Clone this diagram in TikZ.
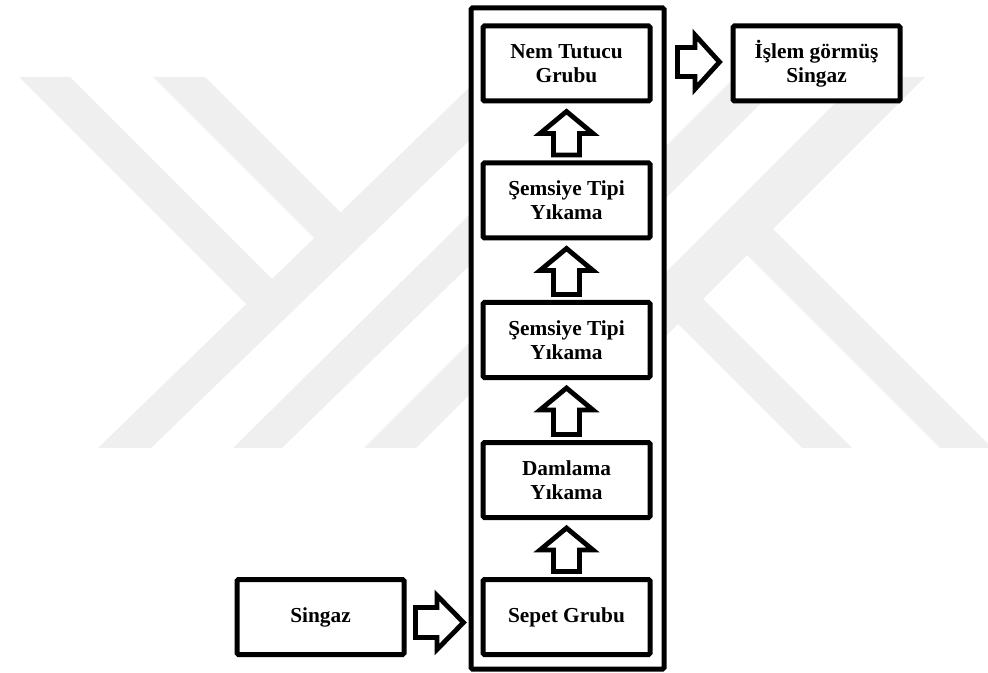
\documentclass[tikz,border=0pt]{standalone}
\usepackage{fontspec}
\setmainfont{Liberation Serif}
\usetikzlibrary{calc}
\definecolor{wm}{RGB}{239,239,239}
\begin{document}
\begin{tikzpicture}[x=0.75pt,y=-0.75pt,
  box/.style={draw, line width=3.75pt, fill=white, rounded corners=1pt,
    minimum width=125.25pt, minimum height=56.25pt, inner sep=0pt,
    align=center, font=\bfseries\fontsize{16}{18}\selectfont},
  column/.style={draw, line width=3.75pt, fill=white, rounded corners=1pt,
    minimum width=144.75pt, minimum height=495.75pt, inner sep=0pt},
  blk/.style={draw, line width=3.6pt, fill=white, line join=miter},
  wmark/.style={fill=wm, draw=none}]
\useasboundingbox (0,0) rectangle (988,673);
% watermark (Y)
\fill[wmark] (98,448) -- (151,448) -- (535,77) -- (480,77) -- cycle;
\fill[wmark] (19,77) -- (70,77) -- (290,297) -- (265,323) -- cycle;
\fill[wmark] (153,77) -- (205,77) -- (354,226) -- (328,252) -- cycle;
\fill[wmark] (233,448) -- (282,448) -- (663,77) -- (609,77) -- cycle;
% watermark (K)
\fill[wmark] (364,448) -- (416,448) -- (787,77) -- (735,77) -- cycle;
\fill[wmark] (861,77) -- (925,77) -- (600,402) -- (600,338) -- cycle;
\fill[wmark] (757,213) -- (992,448) -- (940,448) -- (731,239) -- cycle;
\fill[wmark] (687,283) -- (852,448) -- (802,448) -- (662,308) -- cycle;
% column
\node[column] (col) at (567.5,338.5) {};
% boxes
\node[box] (nem) at (566.5,63.5) {Nem Tutucu\\Grubu};
\node[box] (sem1) at (566.5,200.5) {Şemsiye Tipi\\Yıkama};
\node[box] (sem2) at (566.5,340) {Şemsiye Tipi\\Yıkama};
\node[box] (dam) at (566.5,480) {Damlama\\Yıkama};
\node[box] (sep) at (566.5,617) {Sepet Grubu};
\node[box] (sin) at (320.5,617) {Singaz};
\node[box] (isl) at (816.5,63.5) {İşlem görmüş\\Singaz};
% up block arrows: lower box -> upper box
\foreach \lo/\up in {sep/dam, dam/sem2, sem2/sem1, sem1/nem}{
  \draw[blk] ($(\up.south)+(0,8)$) -- ($(\up.south)+(26.5,30)$) -- ($(\up.south)+(13,30)$)
    -- ($(\lo.north)+(13,-5.5)$) -- ($(\lo.north)+(-13,-5.5)$)
    -- ($(\up.south)+(-13,30)$) -- ($(\up.south)+(-26.5,30)$) -- cycle;
}
% right block arrows
\draw[blk] ($(nem.east)+(25,-16)$) -- ($(nem.east)+(42.5,-16)$) -- ($(nem.east)+(42.5,-28.5)$)
  -- ($(nem.east)+(67,-1.5)$) -- ($(nem.east)+(42.5,25.5)$) -- ($(nem.east)+(42.5,13)$)
  -- ($(nem.east)+(25,13)$) -- cycle;
\draw[blk] ($(sin.east)+(9,-9.5)$) -- ($(sin.east)+(30.5,-9.5)$) -- ($(sin.east)+(30.5,-21.5)$)
  -- ($(sin.east)+(57,5.5)$) -- ($(sin.east)+(30.5,32.5)$) -- ($(sin.east)+(30.5,20.5)$)
  -- ($(sin.east)+(9,20.5)$) -- cycle;
\end{tikzpicture}
\end{document}
